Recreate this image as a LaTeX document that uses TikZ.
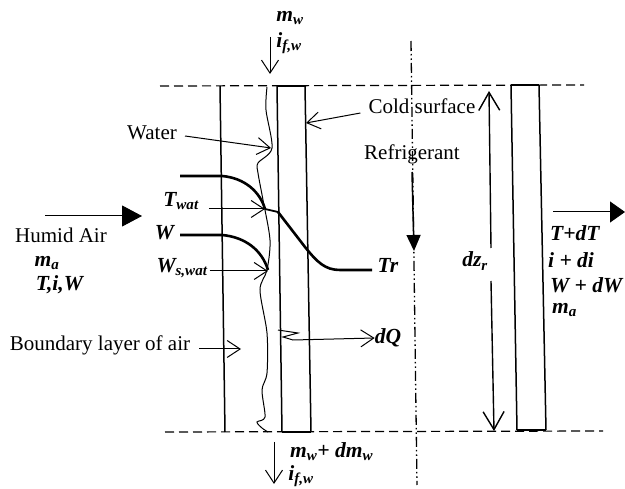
\documentclass[tikz,border=0pt]{standalone}
\usepackage{fontspec}
\setmainfont{Liberation Serif}
\usetikzlibrary{arrows.meta}
\newcommand{\bival}[1]{\textbf{\textit{#1}}}
\newcommand{\bisub}[2]{\textbf{\textit{#1\textsubscript{#2}}}}
\tikzset{
    lbl/.style={font=\fontsize{21}{24}\selectfont, inner sep=0pt},
    val/.style={font=\fontsize{21.5}{24}\selectfont, inner sep=0pt},
    wall/.style={line width=1.5pt},
    limit/.style={line width=1.2pt, dash pattern=on 9pt off 5pt},
    profile/.style={line width=2.6pt},
    openarrow/.style={line width=1pt, -{Straight Barb[length=13pt,width=17pt,line width=1pt]}},
    bigarrow/.style={line width=1.4pt, -{Straight Barb[length=18pt,width=21pt,line width=1.4pt]}},
    flowarrow/.style={line width=1pt, -{Triangle[length=20pt,width=21pt]}}
}
\begin{document}
\begin{tikzpicture}[x=1pt,y=-1pt]
    \useasboundingbox (0,0) rectangle (625,489);

    \coordinate (topL) at (160,86);
    \coordinate (topR) at (584,85);
    \coordinate (botL) at (165,432);
    \coordinate (botR) at (603,431);
    \draw[limit] (topL) -- (topR);
    \draw[limit] (botL) -- (botR);

    \coordinate (airT) at (220,86);
    \coordinate (airB) at (225,432);
    \coordinate (innerT) at (277,86);
    \coordinate (innerB) at (282,432);
    \coordinate (outerT) at (305,86);
    \coordinate (outerB) at (311,432);
    \coordinate (rightAT) at (511,85);
    \coordinate (rightAB) at (517,430);
    \coordinate (rightBT) at (539,85);
    \coordinate (rightBB) at (546,430);
    \draw[wall] (airT) -- (airB);
    \draw[wall] (innerT) -- (innerB);
    \draw[wall] (outerT) -- (outerB);
    \draw[wall] (innerT) -- (outerT);
    \draw[wall] (innerB) -- (outerB);
    \draw[wall] (rightAT) -- (rightAB);
    \draw[wall] (rightBT) -- (rightBB);
    \draw[wall] (rightAT) -- (rightBT);
    \draw[wall] (rightAB) -- (rightBB);

    \draw[line width=1pt, smooth] plot coordinates {(267,87) (266,110) (272,148) (258,163)
        (258,173) (263,200) (270,240) (267,270) (260,290) (267,333) (267,373)
        (262,390) (265,417) (257,422) (262,428) (268,432)};

    \coordinate (axisT) at (411,41);
    \coordinate (axisB) at (417,485);
    \draw[line width=1.3pt, dash pattern=on 10pt off 3pt on 1.5pt off 3pt on 1.5pt off 3pt] (axisT) -- (axisB);

    \node[lbl] (water) at (152,133) {Water};
    \node[lbl] (cold) at (422,106) {Cold surface};
    \node[lbl] (refrigerant) at (412,154) {Refrigerant};
    \node[lbl] (humid) at (61,235) {Humid Air};
    \node[lbl] (boundary) at (100,345) {Boundary layer of air};

    \node[val] (mwTop) at (290,18) {\bisub{m}{w}};
    \node[val] (ifTop) at (289,43) {\bisub{i}{f,w}};
    \node[val] (twat) at (181,201) {\bisub{T}{wat}};
    \node[val] (wval) at (165,233) {\bival{W}};
    \node[val] (wswat) at (182,268) {\bisub{W}{s,wat}};
    \node[val] (tr) at (388,265) {\bival{Tr}};
    \node[val] (dq) at (388,338) {\bival{dQ}};
    \node[val] (dzr) at (475,261) {\bisub{dz}{r}};
    \node[val] (ma) at (47,263) {\bisub{m}{a}};
    \node[val] (tiw) at (60,285) {\bival{T,i,W}};
    \node[val, anchor=west] (tdt) at (550,233) {\bival{T+dT}};
    \node[val, anchor=west] (idi) at (548,260) {\bival{i + di}};
    \node[val, anchor=west] (wdw) at (550,285) {\bival{W + dW}};
    \node[val, anchor=west] (maOut) at (552,310) {\bisub{m}{a}};
    \node[val, anchor=west] (mwBot) at (290,452) {\bisub{m}{w}\bival{+ }\bisub{dm}{w}};
    \node[val] (ifBot) at (301,476) {\bisub{i}{f,w}};

    \coordinate (waterTip) at (271,148);
    \coordinate (twatTip) at (265,209);
    \coordinate (wswatTip) at (268,271);
    \coordinate (boundaryTip) at (241,349);
    \coordinate (coldTip) at (306,123);
    \draw[openarrow] (water.east) ++(8,3) -- (waterTip);
    \draw[openarrow] (twat.east) ++(10,8) -- (twatTip);
    \draw[openarrow] (wswat.east) ++(2,3) -- (wswatTip);
    \draw[openarrow] (boundary.east) ++(9,4) -- (boundaryTip);
    \draw[openarrow] (cold.west) ++(-8,7) -- (coldTip);

    \coordinate (inTopS) at (270,37);
    \coordinate (inTopE) at (270,74);
    \coordinate (outBotS) at (274,442);
    \coordinate (outBotE) at (274,484);
    \draw[openarrow] (inTopS) -- (inTopE);
    \draw[openarrow] (outBotS) -- (outBotE);

    \coordinate (dzTip) at (489,91);
    \coordinate (dzEnd) at (494,431);
    \coordinate (dzUp) at (491,248);
    \coordinate (dzDown) at (491,281);
    \draw[bigarrow] (dzUp) -- (dzTip);
    \draw[bigarrow] (dzDown) -- (dzEnd);

    \coordinate (refS) at (412,172);
    \coordinate (refE) at (414,251);
    \draw[line width=1.5pt, -{Triangle[length=16pt,width=14pt]}] (refS) -- (refE);

    \coordinate (inS) at (45,216);
    \coordinate (inE) at (142,216);
    \coordinate (outS) at (553,212);
    \coordinate (outE) at (625,212);
    \draw[flowarrow] (inS) -- (inE);
    \draw[flowarrow, -{Triangle[length=15pt,width=21pt]}] (outS) -- (outE);

    \coordinate (trEnd) at (372,270);
    \draw[profile] (180,176) -- (222,176) .. controls (245,178) and (260,192) .. (265,209);
    \draw[line width=1.8pt] (265,209) -- (278,212);
    \draw[profile] (278,212) -- (305,247) .. controls (317,262) and (325,270) .. (340,270) -- (trEnd);
    \draw[profile] (180,235) -- (222,235) .. controls (245,237) and (262,250) .. (268,270);

    \coordinate (heatA) at (278,330);
    \coordinate (heatB) at (298,333);
    \coordinate (heatC) at (283,337);
    \coordinate (heatD) at (293,340);
    \draw[openarrow] (heatA) -- (heatB) -- (heatC) -- (heatD) -- (dq.west);
\end{tikzpicture}
\end{document}
